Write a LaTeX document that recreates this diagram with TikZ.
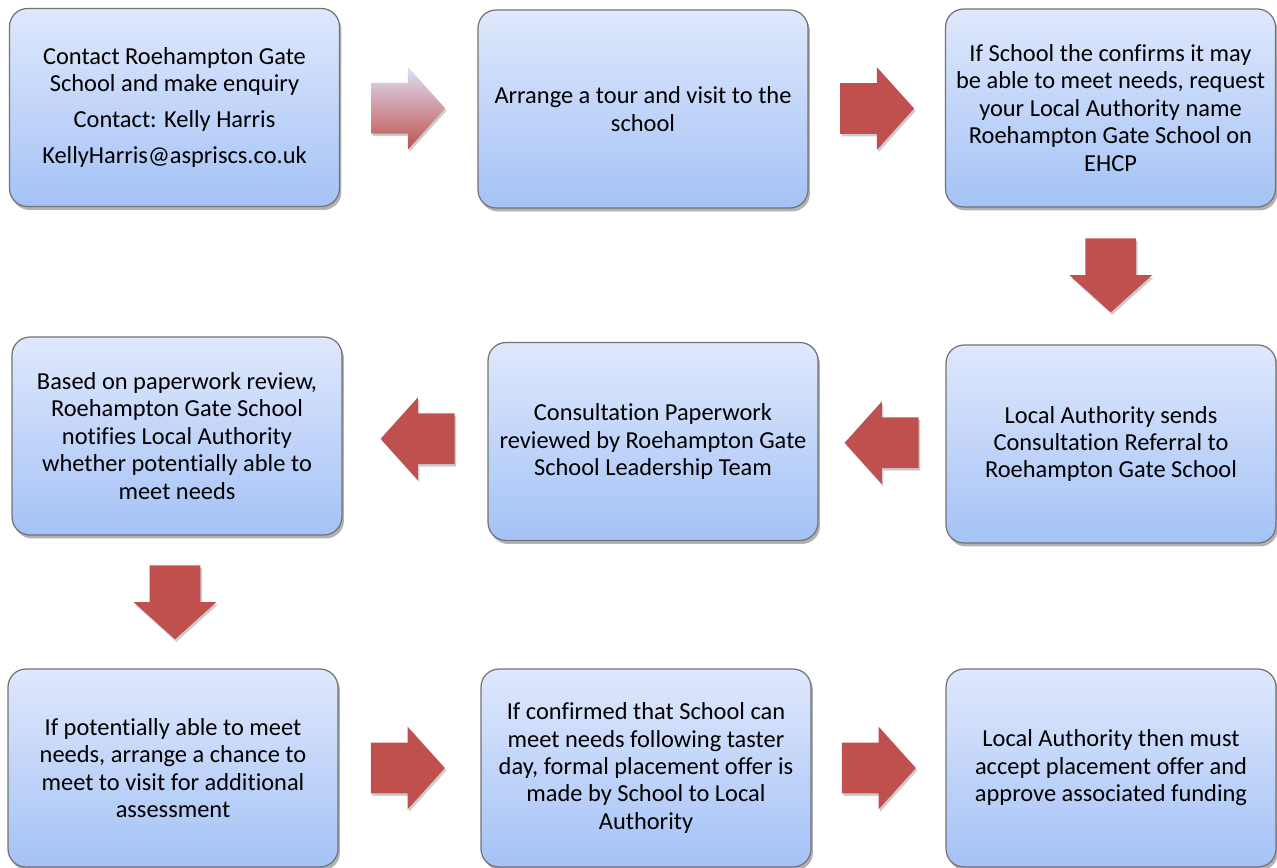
\documentclass[tikz,border=0pt]{standalone}
\usepackage{fontspec}
\setmainfont[Ligatures=NoCommon]{Carlito}
\usetikzlibrary{positioning, calc, shapes.arrows, shadows}

\definecolor{boxtop}{RGB}{223,232,252}
\definecolor{boxbottom}{RGB}{164,194,246}
\definecolor{arrowred}{RGB}{192,80,77}
\definecolor{fadetop}{RGB}{222,224,246}

\tikzset{
  stepbox/.style={draw=black!55, line width=0.7pt, rounded corners=0.36cm,
    top color=boxtop, bottom color=boxbottom, minimum width=6.6cm, minimum height=3.96cm,
    align=center, font=\fontsize{13.9}{15.6}\selectfont,
    drop shadow={shadow xshift=0.04cm, shadow yshift=-0.07cm, opacity=0.3, fill=black}},
  blockarrow/.style={single arrow, draw=none, fill=arrowred, inner xsep=0pt, inner ysep=0.5cm,
    minimum height=1.48cm, single arrow head extend=0.32cm,
    single arrow tip angle=96, anchor=tail,
    drop shadow={shadow xshift=0.03cm, shadow yshift=-0.05cm, opacity=0.2, fill=black}},
}

\begin{document}
\begin{tikzpicture}[x=0.02cm, y=-0.02cm]
  \useasboundingbox (0,0) rectangle (1277,868);

  % first row
  \node[stepbox] (b1) at (174.5,107.5) {Contact Roehampton Gate\\School and make enquiry\\[5pt]
    Contact: Kelly Harris\\[5pt]KellyHarris@aspriscs.co.uk};
  \node[stepbox] (b2) at (643,109) {Arrange a tour and visit to the\\school};
  \node[stepbox] (b3) at (1110.5,108) {If School the confirms it may\\be able to meet needs, request\\your Local Authority name\\Roehampton Gate School on\\EHCP};

  % second row
  \node[stepbox] (b4) at (1111,444) {Local Authority sends\\Consultation Referral to\\Roehampton Gate School};
  \node[stepbox] (b5) at (653,441.5) {Consultation Paperwork\\reviewed by Roehampton Gate\\School Leadership Team};
  \node[stepbox] (b6) at (177,436) {Based on paperwork review,\\Roehampton Gate School\\notifies Local Authority\\whether potentially able to\\meet needs};

  % third row
  \node[stepbox] (b7) at (173,768) {If potentially able to meet\\needs, arrange a chance to\\meet to visit for additional\\assessment};
  \node[stepbox] (b8) at (646,768) {If confirmed that School can\\meet needs following taster\\day, formal placement offer is\\made by School to Local\\Authority};
  \node[stepbox] (b9) at (1111,768) {Local Authority then must\\accept placement offer and\\approve associated funding};

  % arrows between the steps (tail placed half a length before the midpoint)
  \node[blockarrow, fill=none, top color=fadetop, bottom color=arrowred] (a1) at ($(b1.east)!0.5!(b2.west)+(-38,0)$) {};
  \node[blockarrow] (a2) at ($(b2.east)!0.5!(b3.west)+(-37,0)$) {};
  \node[blockarrow, rotate=-90] (a3) at ($(b3.south)!0.5!(b4.north)+(0,-38)$) {};
  \node[blockarrow, rotate=180] (a4) at ($(b4.west)!0.5!(b5.east)+(37,0)$) {};
  \node[blockarrow, rotate=180] (a5) at ($(b5.west)!0.5!(b6.east)+(40,0)$) {};
  \node[blockarrow, rotate=-90] (a6) at ($(b6.south)!0.5!(b7.north)+(0,-37)$) {};
  \node[blockarrow] (a7) at ($(b7.east)!0.5!(b8.west)+(-39,0)$) {};
  \node[blockarrow] (a8) at ($(b8.east)!0.5!(b9.west)+(-37,0)$) {};
\end{tikzpicture}
\end{document}
